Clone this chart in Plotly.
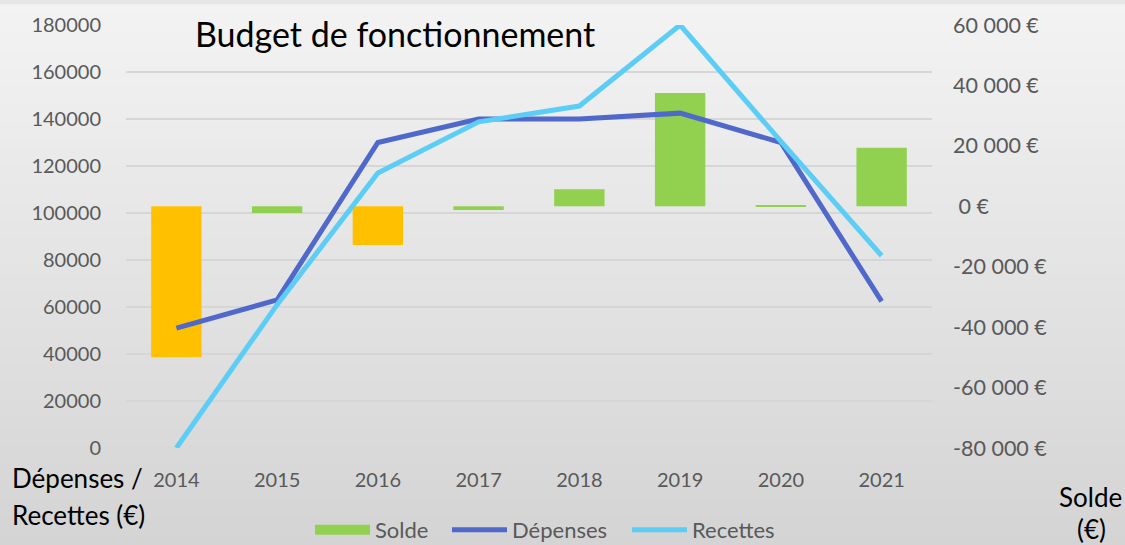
import plotly.graph_objects as go

# ---- data ----
years = ["2014", "2015", "2016", "2017", "2018", "2019", "2020", "2021"]
solde = [-50000, -2200, -12800, -1200, 5600, 37500, 400, 19400]
depenses = [51000, 63000, 130000, 140000, 140000, 142500, 130000, 62400]
recettes = [0, 61000, 117000, 138800, 145500, 180000, 130500, 81800]

left_tickvals = [0, 20000, 40000, 60000, 80000, 100000, 120000, 140000, 160000, 180000]
right_tickvals = [-80000, -60000, -40000, -20000, 0, 20000, 40000, 60000]
right_ticktext = ["-80 000 €", "-60 000 €", "-40 000 €", "-20 000 €", " 0 €",
                  "20 000 €", "40 000 €", "60 000 €"]

title_text = "Budget de fonctionnement"
left_title = ["Dépenses /", "Recettes (€)"]
right_title = ["Solde", "(€)"]

# ---- styles ----
GREEN = "#92D050"
ORANGE = "#FFC000"
BLUE = "#4F68CA"
LIGHT = "#5CCDF5"
bar_colors = [ORANGE, GREEN, ORANGE, GREEN, GREEN, GREEN, GREEN, GREEN]
FONT = "Lato"
TICKC = "#595959"

W, H = 1125, 545
L, R, T, B = 126, 193, 21, 97
pw, ph = W - L - R, H - T - B

def px_x(px):
    return (px - L) / pw

def px_y(py):
    return (H - B - py) / ph

fig = go.Figure()

fig.add_trace(go.Bar(x=years, y=solde, yaxis="y", marker=dict(color=bar_colors, line=dict(width=0)),
                     width=0.5, showlegend=False, name="Solde"))
# legend entry for Solde (wide green swatch)
fig.add_trace(go.Scatter(x=[years[0]], y=[None], yaxis="y2", mode="lines", name="Solde",
                         line=dict(color=GREEN, width=13), legend="legend"))
fig.add_trace(go.Scatter(x=years, y=depenses, yaxis="y2", mode="lines", name="Dépenses",
                         line=dict(color=BLUE, width=5), legend="legend2"))
fig.add_trace(go.Scatter(x=years, y=recettes, yaxis="y2", mode="lines", name="Recettes",
                         line=dict(color=LIGHT, width=5), legend="legend3"))

# background gradient
shapes = []
n = 60
top = (243, 243, 243)
bot = (212, 212, 212)
for i in range(n):
    t = (i + 0.5) / n
    c = tuple(round(top[k] + (bot[k] - top[k]) * t) for k in range(3))
    y_top_px = H * i / n
    y_bot_px = H * (i + 1) / n + 1
    shapes.append(dict(type="rect", xref="paper", yref="paper", layer="below",
                       x0=px_x(0), x1=px_x(W), y0=px_y(y_bot_px), y1=px_y(y_top_px),
                       fillcolor="rgb(%d,%d,%d)" % c, line=dict(width=0)))

annotations = [
    dict(text=title_text, xref="paper", yref="paper", x=px_x(193), y=px_y(30),
         xanchor="left", yanchor="middle", showarrow=False,
         font=dict(family=FONT, size=34, color="#000000")),
    dict(text=left_title[0], xref="paper", yref="paper", x=px_x(10), y=px_y(478),
         xanchor="left", yanchor="middle", showarrow=False,
         font=dict(family=FONT, size=26, color="#000000")),
    dict(text=left_title[1], xref="paper", yref="paper", x=px_x(10), y=px_y(516),
         xanchor="left", yanchor="middle", showarrow=False,
         font=dict(family=FONT, size=26, color="#000000")),
    dict(text=right_title[0], xref="paper", yref="paper", x=px_x(1090), y=px_y(497),
         xanchor="center", yanchor="middle", showarrow=False,
         font=dict(family=FONT, size=26, color="#000000")),
    dict(text=right_title[1], xref="paper", yref="paper", x=px_x(1091), y=px_y(530),
         xanchor="center", yanchor="middle", showarrow=False,
         font=dict(family=FONT, size=26, color="#000000")),
]

def leg(px_left):
    return dict(orientation="h", xref="container", yref="container", x=px_left / W, y=1 - 530 / H,
                xanchor="left", yanchor="middle", itemwidth=55,
                font=dict(family=FONT, size=22, color=TICKC), bgcolor="rgba(0,0,0,0)")

# offset between legend box left and swatch start, measured from previous render
OFF = 5
fig.update_layout(
    width=W, height=H, autosize=False,
    margin=dict(l=L, r=R, t=T, b=B, pad=0),
    paper_bgcolor="#e6e6e6", plot_bgcolor="rgba(0,0,0,0)",
    font=dict(family=FONT, size=20, color=TICKC),
    barmode="overlay",
    shapes=shapes,
    annotations=annotations,
    xaxis=dict(type="category", showgrid=False, showline=False, zeroline=False, ticks="",
               tickfont=dict(size=20, color=TICKC), ticklabelstandoff=18),
    yaxis=dict(side="right", range=[-80000, 60000], tickvals=right_tickvals, ticktext=right_ticktext,
               showgrid=False, zeroline=False, showline=False, ticks="",
               tickfont=dict(size=21.5, color=TICKC), ticklabelstandoff=20),
    yaxis2=dict(side="left", overlaying="y", range=[0, 180000], tickvals=left_tickvals,
                tickformat="d", showgrid=True, gridcolor="#d6d6d6", gridwidth=2,
                zeroline=False, showline=False, ticks="",
                tickfont=dict(size=20, color=TICKC), ticklabelstandoff=24),
    legend=leg(315 - OFF),
    legend2=leg(452 - OFF),
    legend3=leg(632 - OFF),
)

fig.write_html("out.html", config={"displayModeBar": False},
               post_script="document.body.style.margin='0';document.body.style.overflow='hidden';")
